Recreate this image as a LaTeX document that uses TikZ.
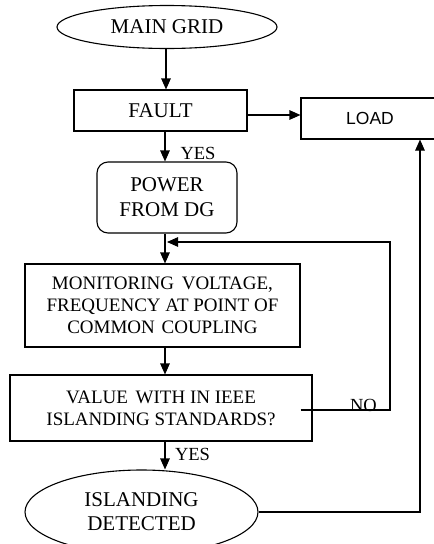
\documentclass[tikz,border=0pt]{standalone}
\usepackage{fontspec}
\setmainfont{Liberation Serif}
\newfontfamily\loadfont{Liberation Sans}
\usetikzlibrary{shapes.geometric,arrows.meta}
\begin{document}
\begin{tikzpicture}[x=1pt,y=-1pt,
  every node/.style={inner sep=0pt, align=center},
  box/.style={draw, line width=1.1pt, rectangle},
  oval/.style={draw, line width=1.1pt, ellipse},
  big/.style={font=\fontsize{21}{25}\selectfont},
  small/.style={font=\fontsize{19}{22}\selectfont},
  lbl/.style={font=\fontsize{18.5}{22}\selectfont},
  arr/.style={line width=1.1pt, -{Triangle[length=11pt,width=9.5pt]}}
]
\useasboundingbox (0,0) rectangle (434,544);

% helper columns for the vertical connectors
\coordinate (spine) at (165,0);
\coordinate (fb) at (390,242);
\coordinate (rx) at (420,0);

% flow steps
\node[oval, big, minimum width=220pt, minimum height=43pt] (main) at (167,27) {MAIN GRID};
\node[box, big, minimum width=173pt, minimum height=41pt] (fault) at (160.5,110.5) {FAULT};
\node[box, font=\loadfont\fontsize{17.5}{20}\selectfont, minimum width=138pt, minimum height=41pt] (load) at (370,118.5) {LOAD};
\node[box, big, rounded corners=11pt, minimum width=140pt, minimum height=71pt] (power) at (167,197.5) {POWER\\FROM DG};
\node[box, small, minimum width=275pt, minimum height=83pt] (mon) at (162.5,305.5)
  {MONITORING\hspace{3pt} VOLTAGE,\\FREQUENCY AT POINT OF\\COMMON\hspace{2pt} COUPLING};
\node[box, small, minimum width=302pt, minimum height=66pt] (value) at (161,408)
  {VALUE\hspace{3pt} WITH IN IEEE\\ISLANDING STANDARDS?};
\node[oval, big, font=\fontsize{21}{24}\selectfont, minimum width=233pt, minimum height=84pt] (isl) at (141.5,512) {ISLANDING\\DETECTED};

% connectors
\draw[arr] (main.south -| 166,0) -- (fault.north -| 166,0);
\draw[arr] ([yshift=-4.5pt]fault.east) -- ([yshift=3.5pt]load.west);
\draw[arr] (fault.south -| spine) -- (power.north -| spine);
\draw[arr] (power.south -| spine) -- (mon.north -| spine);
\draw[arr] (mon.south -| spine) -- (value.north -| spine);
\draw[arr] (value.south -| spine) -- (isl.north -| spine);
\draw[arr] ([xshift=-12pt,yshift=-2pt]value.east) -| (fb) -- ([xshift=2pt]fb -| spine);
\draw[arr] (isl.east) -| (load.south -| rx);

% branch labels
\node[lbl] (yes1) at (198,153.5) {YES};
\node[lbl] (yes2) at (192.5,454.5) {YES};
\node[lbl] (no) at (363.5,405.5) {NO};
\end{tikzpicture}
\end{document}
